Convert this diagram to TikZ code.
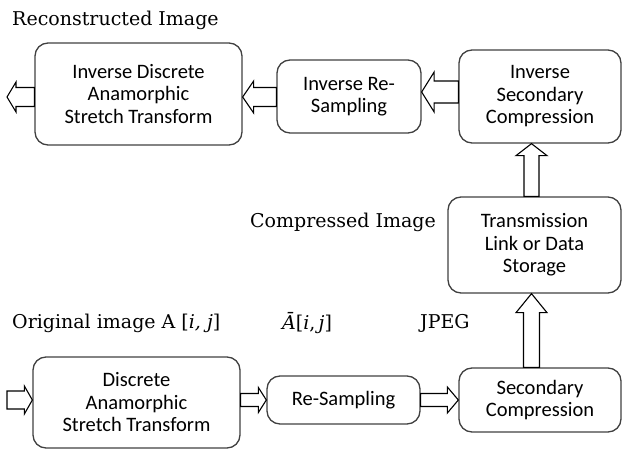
\documentclass[tikz,border=0pt]{standalone}
\usepackage{fontspec}
\usetikzlibrary{calc}
\newfontfamily\boxfont{Carlito}
\newfontfamily\labelfont{DejaVu Serif}
\tikzset{
  x=1pt, y=-1pt,
  blk/.style={draw=black!75, line width=1.3pt, rounded corners=13pt, align=center,
    font=\boxfont\fontsize{20.5}{22.5}\selectfont, inner sep=0pt},
  lbl/.style={font=\labelfont\fontsize{19}{21}\selectfont, inner sep=0pt, anchor=west},
  barrow/.style={draw=black, line width=1.1pt, fill=white, line join=miter}
}
% horizontal block arrow: tip, tail, shaft half, head half, signed head length
\newcommand\HArrow[5]{\draw[barrow] (#1) -- ++(#5,-#4) -- ++(0,#4-#3) -- ($(#2)+(0,-#3)$) -- ++(0,2*#3) -- ($(#1)+(#5,#3)$) -- ++(0,#4-#3) -- cycle;}
% vertical upward block arrow
\newcommand\VArrow[5]{\draw[barrow] (#1) -- ++(-#4,#5) -- ++(#4-#3,0) -- ($(#2)+(-#3,0)$) -- ++(2*#3,0) -- ($(#1)+(#3,#5)$) -- ++(#4-#3,0) -- cycle;}
\begin{document}
\begin{tikzpicture}
\useasboundingbox (0,0) rectangle (622,450);
% boxes
\node[blk, minimum width=207pt, minimum height=102pt] (A) at (138.5,94) {Inverse Discrete\\Anamorphic\\Stretch Transform};
\node[blk, minimum width=144pt, minimum height=73pt] (B) at (349,96.5) {Inverse Re-\\Sampling};
\node[blk, minimum width=162pt, minimum height=93pt] (C) at (540,96.5) {Inverse\\Secondary\\Compression};
\node[blk, minimum width=173pt, minimum height=96pt] (D) at (534.5,245) {Transmission\\Link or Data\\Storage};
\node[blk, minimum width=207pt, minimum height=91pt] (E) at (136.5,402.5) {Discrete\\Anamorphic\\Stretch Transform};
\node[blk, minimum width=153pt, minimum height=48pt] (F) at (343.5,400) {Re-Sampling};
\node[blk, minimum width=162pt, minimum height=64pt] (G) at (540,400) {Secondary\\Compression};
% labels
\node[lbl] (l1) at (12,20) {Reconstructed Image};
\node[lbl] (l2) at (250,222) {Compressed Image};
\node[lbl] (l3) at (12,323) {Original image A [\textit{i, j}]};
\node[lbl] (l4) at (282,323) {\textit{Ā}[\textit{i},\,\textit{j}]};
\node[lbl] (l5) at (420,323) {JPEG};
% reference coordinates
\coordinate (out) at (7,97);
\coordinate (lv2) at (0,92);
\coordinate (vx) at (531.5,0);
\coordinate (in) at (7,400);
% arrows
\HArrow{out}{A.west |- out}{9.5}{15}{9}
\HArrow{A.east |- out}{B.west |- out}{9.5}{16}{11}
\HArrow{B.east |- lv2}{C.west |- lv2}{11}{20}{12.5}
\VArrow{vx |- C.south}{vx |- D.north}{7.5}{15.5}{12}
\VArrow{vx |- D.south}{vx |- G.north}{8}{15.5}{19}
\HArrow{E.west |- in}{in}{9}{14}{-8}
\HArrow{F.west}{E.east |- F.west}{6.5}{12.5}{-8}
\HArrow{G.west |- F.east}{F.east}{6.5}{13}{-11}
\end{tikzpicture}
\end{document}
